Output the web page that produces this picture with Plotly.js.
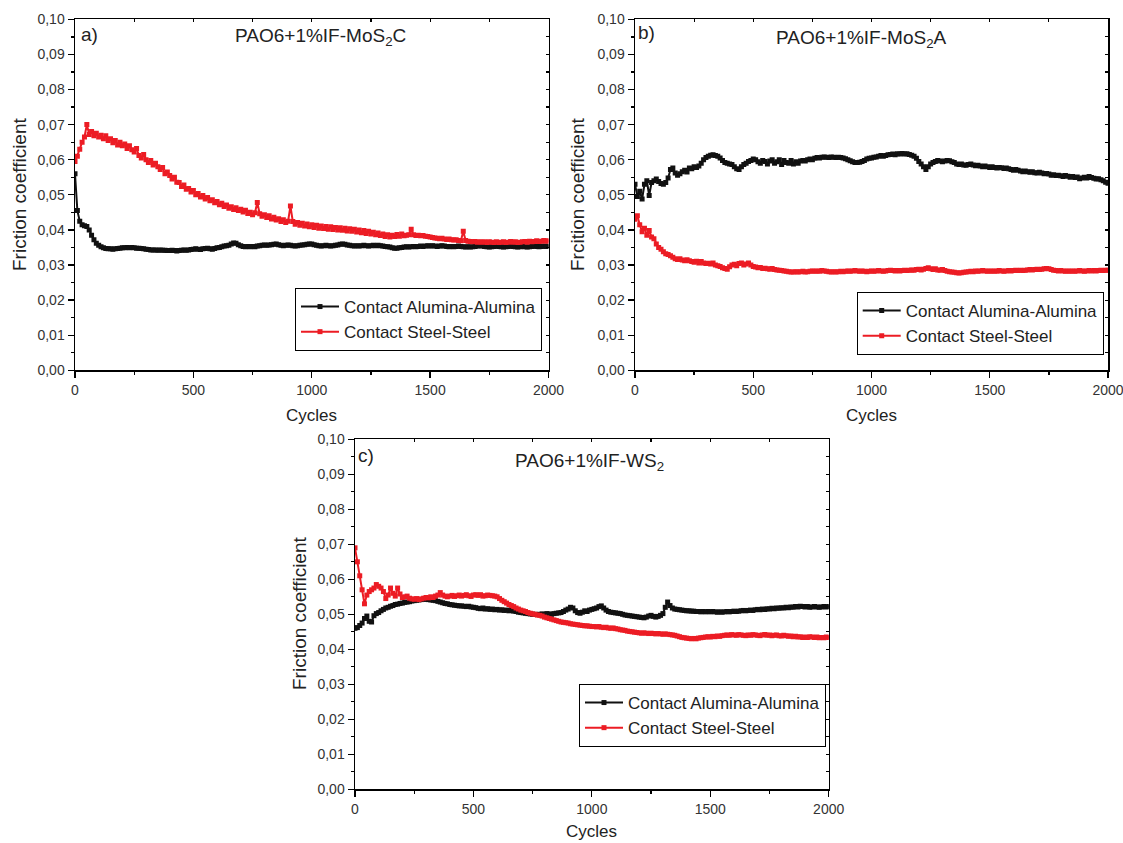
<!DOCTYPE html>
<html>
<head>
<meta charset="utf-8">
<script src="https://cdn.plot.ly/plotly-3.0.1.min.js"></script>
<style>html,body{margin:0;padding:0;background:#fff;}#chart{width:1123px;height:843px;}</style>
</head>
<body>
<div id="chart"></div>
<script>
// Sample grid: one reading every 10 cycles, 0..2000
const cycles = Array.from({length: 201}, (_, i) => i * 10);

const seriesNames = ["Contact Alumina-Alumina", "Contact Steel-Steel"];
const panelTitles = ["PAO6+1%IF-MoS<sub>2</sub>C", "PAO6+1%IF-MoS<sub>2</sub>A", "PAO6+1%IF-WS<sub>2</sub>"];
const panelLabels = ["a)", "b)", "c)"];
const xTitle = "Cycles";
const yTitles = ["Friction coefficient", "Frcition coefficient", "Friction coefficient"];

// Panel a) black (alumina) and red (steel)
const aAlumina = [
.0560,.0455,.0425,.0415,.0412,.0410,.0400,.0385,.0372,.0362,
.0356,.0352,.0349,.0347,.0346,.0346,.0345,.0346,.0347,.0348,
.0349,.0349,.0350,.0349,.0350,.0349,.0348,.0348,.0347,.0346,
.0345,.0344,.0343,.0343,.0343,.0342,.0343,.0342,.0342,.0341,
.0341,.0342,.0341,.0340,.0341,.0342,.0343,.0342,.0343,.0344,
.0345,.0346,.0345,.0344,.0346,.0347,.0348,.0346,.0345,.0347,
.0349,.0350,.0352,.0354,.0355,.0356,.0360,.0363,.0362,.0358,
.0355,.0353,.0352,.0353,.0352,.0353,.0352,.0354,.0355,.0356,
.0357,.0356,.0357,.0358,.0359,.0360,.0358,.0356,.0355,.0356,
.0357,.0356,.0355,.0354,.0355,.0356,.0357,.0358,.0359,.0360,
.0360,.0358,.0356,.0355,.0354,.0355,.0356,.0355,.0354,.0355,
.0356,.0357,.0359,.0360,.0359,.0357,.0356,.0355,.0354,.0355,
.0354,.0355,.0356,.0355,.0354,.0355,.0356,.0355,.0356,.0355,
.0354,.0353,.0352,.0351,.0349,.0348,.0348,.0349,.0350,.0351,
.0352,.0351,.0352,.0353,.0352,.0353,.0354,.0353,.0354,.0355,
.0354,.0355,.0354,.0353,.0354,.0355,.0354,.0353,.0352,.0353,
.0352,.0353,.0354,.0353,.0352,.0351,.0352,.0351,.0352,.0353,
.0354,.0355,.0354,.0353,.0352,.0351,.0352,.0353,.0354,.0353,
.0352,.0351,.0352,.0353,.0354,.0353,.0352,.0351,.0352,.0353,
.0352,.0351,.0352,.0353,.0354,.0353,.0352,.0353,.0354,.0353,
.0354];
const aSteel = [
.0595,.0610,.0630,.0650,.0665,.0700,.0672,.0680,.0668,.0675,
.0665,.0670,.0660,.0668,.0655,.0660,.0648,.0655,.0642,.0650,
.0640,.0645,.0632,.0640,.0628,.0622,.0632,.0612,.0605,.0615,
.0600,.0592,.0598,.0585,.0590,.0580,.0572,.0578,.0560,.0565,
.0555,.0545,.0550,.0536,.0535,.0524,.0528,.0516,.0518,.0508,
.0512,.0500,.0504,.0494,.0498,.0488,.0492,.0483,.0486,.0477,
.0481,.0472,.0476,.0467,.0471,.0462,.0466,.0458,.0463,.0455,
.0459,.0451,.0456,.0447,.0450,.0443,.0449,.0478,.0446,.0439,
.0443,.0435,.0440,.0431,.0436,.0428,.0432,.0424,.0429,.0421,
.0425,.0468,.0424,.0416,.0421,.0413,.0419,.0411,.0417,.0409,
.0415,.0407,.0413,.0405,.0411,.0404,.0410,.0402,.0409,.0401,
.0407,.0400,.0406,.0399,.0405,.0397,.0403,.0396,.0402,.0394,
.0400,.0392,.0398,.0390,.0396,.0388,.0393,.0386,.0391,.0384,
.0388,.0381,.0386,.0380,.0385,.0381,.0387,.0382,.0388,.0383,
.0385,.0386,.0402,.0386,.0384,.0385,.0383,.0384,.0382,.0381,
.0380,.0378,.0377,.0376,.0375,.0376,.0374,.0373,.0374,.0372,
.0371,.0372,.0370,.0369,.0396,.0370,.0368,.0367,.0366,.0367,
.0365,.0366,.0365,.0366,.0364,.0366,.0365,.0364,.0366,.0364,
.0365,.0366,.0364,.0365,.0367,.0365,.0366,.0364,.0365,.0366,
.0367,.0365,.0368,.0366,.0367,.0369,.0367,.0368,.0370,.0368,
.0369];

// Panel b)
const bAlumina = [
.0530,.0495,.0510,.0488,.0530,.0540,.0498,.0535,.0540,.0545,
.0538,.0532,.0530,.0535,.0548,.0572,.0576,.0562,.0556,.0560,
.0566,.0570,.0565,.0576,.0574,.0580,.0578,.0582,.0590,.0600,
.0606,.0610,.0613,.0614,.0612,.0610,.0605,.0598,.0592,.0590,
.0588,.0586,.0580,.0574,.0572,.0580,.0586,.0590,.0595,.0598,
.0602,.0600,.0594,.0590,.0598,.0595,.0588,.0596,.0600,.0590,
.0594,.0600,.0586,.0598,.0592,.0590,.0598,.0588,.0594,.0590,
.0596,.0598,.0596,.0600,.0602,.0600,.0604,.0606,.0605,.0607,
.0608,.0607,.0606,.0608,.0607,.0606,.0607,.0606,.0605,.0603,
.0600,.0597,.0594,.0592,.0592,.0593,.0595,.0598,.0602,.0604,
.0605,.0607,.0608,.0610,.0612,.0610,.0612,.0614,.0615,.0616,
.0614,.0617,.0616,.0618,.0616,.0617,.0615,.0613,.0610,.0604,
.0595,.0588,.0580,.0572,.0580,.0588,.0592,.0595,.0598,.0596,
.0594,.0596,.0598,.0597,.0594,.0592,.0588,.0586,.0588,.0585,
.0584,.0586,.0588,.0585,.0583,.0584,.0582,.0580,.0582,.0580,
.0578,.0580,.0578,.0576,.0578,.0577,.0575,.0576,.0574,.0572,
.0570,.0572,.0570,.0568,.0566,.0568,.0566,.0564,.0566,.0563,
.0562,.0564,.0562,.0560,.0561,.0559,.0556,.0557,.0555,.0556,
.0554,.0552,.0555,.0553,.0550,.0552,.0549,.0551,.0546,.0548,
.0550,.0548,.0552,.0549,.0547,.0545,.0546,.0543,.0540,.0536,
.0533];
const bSteel = [
.0430,.0440,.0415,.0395,.0405,.0385,.0398,.0380,.0375,.0360,
.0350,.0345,.0338,.0332,.0330,.0326,.0322,.0318,.0316,.0318,
.0314,.0312,.0315,.0312,.0310,.0308,.0311,.0306,.0310,.0306,
.0304,.0305,.0303,.0306,.0300,.0298,.0296,.0292,.0290,.0288,
.0295,.0300,.0302,.0298,.0304,.0306,.0300,.0303,.0306,.0300,
.0296,.0294,.0292,.0293,.0290,.0291,.0289,.0288,.0290,.0287,
.0286,.0285,.0284,.0283,.0282,.0281,.0280,.0280,.0281,.0280,
.0281,.0282,.0280,.0281,.0282,.0283,.0282,.0283,.0282,.0284,
.0283,.0282,.0281,.0280,.0281,.0280,.0281,.0282,.0281,.0282,
.0283,.0282,.0283,.0284,.0283,.0282,.0283,.0282,.0281,.0282,
.0283,.0282,.0283,.0284,.0283,.0282,.0283,.0284,.0285,.0284,
.0283,.0284,.0283,.0284,.0285,.0284,.0285,.0286,.0285,.0287,
.0288,.0286,.0288,.0290,.0292,.0289,.0287,.0289,.0286,.0285,
.0287,.0284,.0282,.0281,.0280,.0279,.0278,.0277,.0278,.0279,
.0280,.0281,.0282,.0281,.0283,.0282,.0283,.0284,.0283,.0282,
.0283,.0282,.0283,.0282,.0284,.0283,.0282,.0283,.0284,.0283,
.0284,.0285,.0284,.0285,.0284,.0285,.0286,.0287,.0286,.0287,
.0288,.0287,.0288,.0289,.0290,.0289,.0287,.0285,.0284,.0283,
.0284,.0283,.0282,.0283,.0282,.0283,.0282,.0283,.0284,.0283,
.0282,.0283,.0284,.0283,.0284,.0283,.0284,.0285,.0284,.0285,
.0285];

// Panel c)
const cAlumina = [
.0460,.0462,.0468,.0475,.0488,.0495,.0480,.0478,.0496,.0502,
.0505,.0510,.0514,.0518,.0520,.0523,.0525,.0528,.0529,.0531,
.0532,.0534,.0535,.0536,.0538,.0539,.0540,.0541,.0542,.0543,
.0543,.0542,.0541,.0540,.0539,.0537,.0535,.0533,.0531,.0530,
.0528,.0527,.0526,.0525,.0524,.0524,.0523,.0522,.0523,.0521,
.0520,.0519,.0517,.0516,.0518,.0515,.0516,.0514,.0515,.0513,
.0514,.0512,.0513,.0511,.0512,.0510,.0511,.0509,.0508,.0506,
.0505,.0504,.0503,.0502,.0501,.0500,.0500,.0499,.0500,.0501,
.0500,.0502,.0501,.0500,.0502,.0503,.0504,.0505,.0508,.0512,
.0515,.0520,.0518,.0510,.0505,.0503,.0506,.0510,.0508,.0512,
.0514,.0516,.0518,.0522,.0524,.0518,.0512,.0508,.0506,.0505,
.0504,.0503,.0502,.0500,.0498,.0497,.0496,.0495,.0494,.0493,
.0492,.0491,.0490,.0492,.0495,.0497,.0494,.0492,.0494,.0497,
.0502,.0520,.0535,.0525,.0518,.0515,.0514,.0513,.0512,.0511,
.0510,.0510,.0509,.0509,.0508,.0508,.0507,.0508,.0507,.0508,
.0507,.0508,.0507,.0506,.0507,.0506,.0507,.0508,.0507,.0508,
.0509,.0508,.0509,.0510,.0511,.0510,.0511,.0512,.0511,.0513,
.0514,.0513,.0515,.0514,.0516,.0515,.0517,.0516,.0518,.0517,
.0519,.0518,.0520,.0519,.0521,.0520,.0522,.0521,.0523,.0522,
.0521,.0522,.0520,.0521,.0522,.0521,.0520,.0521,.0522,.0521,
.0522];
const cSteel = [
.0690,.0650,.0610,.0570,.0530,.0555,.0565,.0570,.0575,.0585,
.0580,.0575,.0565,.0545,.0555,.0575,.0560,.0552,.0575,.0558,
.0548,.0550,.0552,.0546,.0544,.0543,.0545,.0542,.0544,.0546,
.0548,.0547,.0550,.0548,.0552,.0555,.0562,.0555,.0552,.0550,
.0552,.0554,.0551,.0553,.0555,.0552,.0554,.0556,.0553,.0551,
.0555,.0556,.0554,.0556,.0552,.0553,.0555,.0554,.0553,.0552,
.0550,.0545,.0540,.0536,.0532,.0528,.0525,.0522,.0518,.0515,
.0512,.0510,.0508,.0505,.0503,.0501,.0500,.0498,.0497,.0495,
.0492,.0490,.0488,.0486,.0484,.0482,.0480,.0478,.0477,.0476,
.0475,.0473,.0472,.0471,.0470,.0469,.0468,.0467,.0467,.0466,
.0465,.0465,.0464,.0465,.0463,.0462,.0463,.0461,.0460,.0461,
.0459,.0458,.0456,.0455,.0454,.0452,.0451,.0450,.0449,.0448,
.0447,.0446,.0447,.0446,.0445,.0446,.0445,.0444,.0445,.0444,
.0443,.0444,.0443,.0442,.0441,.0440,.0438,.0436,.0434,.0433,
.0432,.0431,.0430,.0431,.0430,.0432,.0433,.0434,.0435,.0436,
.0435,.0437,.0436,.0438,.0437,.0439,.0440,.0441,.0440,.0442,
.0441,.0440,.0442,.0441,.0440,.0439,.0441,.0440,.0442,.0441,
.0440,.0439,.0441,.0442,.0440,.0441,.0439,.0440,.0441,.0439,
.0438,.0440,.0439,.0437,.0438,.0436,.0437,.0435,.0436,.0434,
.0435,.0434,.0436,.0435,.0434,.0435,.0433,.0434,.0433,.0435,
.0434];

const W = 1123, H = 843;
const px = v => v / W;
const py = v => 1 - v / H;
const FONT = "Liberation Sans, Arial, Helvetica, sans-serif";
const BLACK = "#111111", RED = "#ec1c24";

// Panel frames in pixels [left, right, top, bottom]
const frames = [[75, 548.5, 19.3, 370.3], [635, 1108, 19.3, 370.3], [355, 828.7, 439.3, 789.3]];

function seriesTrace(y, idx, xa, ya, lg, color) {
  return {
    type: "scatter", mode: "lines+markers", x: cycles, y: y,
    name: seriesNames[idx], xaxis: xa, yaxis: ya, legend: lg,
    line: {color: color, width: 2},
    marker: {color: color, size: 5, symbol: "square"},
    hoverinfo: "skip"
  };
}

const data = [
  seriesTrace(aAlumina, 0, "x", "y", "legend", BLACK),
  seriesTrace(aSteel, 1, "x", "y", "legend", RED),
  seriesTrace(bAlumina, 0, "x2", "y2", "legend2", BLACK),
  seriesTrace(bSteel, 1, "x2", "y2", "legend2", RED),
  seriesTrace(cAlumina, 0, "x3", "y3", "legend3", BLACK),
  seriesTrace(cSteel, 1, "x3", "y3", "legend3", RED)
];
// empty traces to activate the mirrored tick axes
[4, 5, 6].forEach(n => data.push({type: "scatter", x: [], y: [], xaxis: "x" + n, yaxis: "y" + n, showlegend: false, hoverinfo: "skip"}));

function baseX(f, anchor) {
  return {domain: [px(f[0]), px(f[1])], anchor: anchor, range: [0, 2000], tick0: 0, dtick: 500,
    ticks: "outside", ticklen: 6, tickwidth: 1.3, tickcolor: "#000", ticklabeloverflow: "allow",
    showline: true, linewidth: 1.5, linecolor: "#000", mirror: true,
    showgrid: false, zeroline: false, fixedrange: true,
    tickfont: {family: FONT, size: 14, color: "#333"},
    minor: {ticks: "outside", ticklen: 3, tickwidth: 1.3, tickcolor: "#000", dtick: 250, showgrid: false}};
}
function baseY(f, anchor) {
  return {domain: [py(f[3]), py(f[2])], anchor: anchor, range: [0, 0.1], tick0: 0, dtick: 0.01, tickformat: ".2f",
    ticks: "outside", ticklen: 6, tickwidth: 1.3, tickcolor: "#000", ticklabeloverflow: "allow",
    showline: true, linewidth: 1.5, linecolor: "#000", mirror: true,
    showgrid: false, zeroline: false, fixedrange: true,
    tickfont: {family: FONT, size: 14, color: "#333"},
    minor: {ticks: "outside", ticklen: 3, tickwidth: 1.3, tickcolor: "#000", dtick: 0.005, showgrid: false}};
}
function topX(over, anchor) {
  return {overlaying: over, side: "top", anchor: anchor, range: [0, 2000], tick0: 0, dtick: 500,
    ticks: "inside", ticklen: 3, tickwidth: 1.2, tickcolor: "#000", showticklabels: false,
    showline: false, showgrid: false, zeroline: false, fixedrange: true,
    minor: {ticks: "inside", ticklen: 3, tickwidth: 1.2, tickcolor: "#000", dtick: 250, showgrid: false}};
}
function rightY(over, anchor) {
  return {overlaying: over, side: "right", anchor: anchor, range: [0, 0.1], tick0: 0, dtick: 0.01,
    ticks: "inside", ticklen: 3, tickwidth: 1.2, tickcolor: "#000", showticklabels: false,
    showline: false, showgrid: false, zeroline: false, fixedrange: true,
    minor: {ticks: "inside", ticklen: 3, tickwidth: 1.2, tickcolor: "#000", dtick: 0.005, showgrid: false}};
}

function legendAt(x, y) {
  return {x: px(x), y: py(y), xanchor: "left", yanchor: "top", bordercolor: "#000", borderwidth: 1,
    bgcolor: "rgba(255,255,255,0)", font: {family: FONT, size: 17, color: "#222"}, itemwidth: 38, tracegroupgap: 0};
}

const txt = {family: FONT, size: 17, color: "#222"};
const big = {family: FONT, size: 19, color: "#222"};
function ann(text, x, y, extra) {
  return Object.assign({text: text, xref: "paper", yref: "paper", x: px(x), y: py(y), showarrow: false, font: txt,
    xanchor: "center", yanchor: "middle"}, extra || {});
}

const annotations = [
  ann(panelLabels[0], 79, 35, {xanchor: "left", font: big}),
  ann(panelLabels[1], 636, 33, {xanchor: "left", font: big}),
  ann(panelLabels[2], 356, 455, {xanchor: "left", font: big}),
  ann(panelTitles[0], 320, 37, {font: big}),
  ann(panelTitles[1], 861, 39, {font: big}),
  ann(panelTitles[2], 589, 462, {font: big}),
  ann(xTitle, 311.8, 415),
  ann(xTitle, 871.5, 415),
  ann(xTitle, 591.8, 831),
  ann(yTitles[0], 19, 195, {textangle: -90, font: big}),
  ann(yTitles[1], 577, 195, {textangle: -90, font: big}),
  ann(yTitles[2], 299, 614, {textangle: -90, font: big})
];

const layout = {
  width: W, height: H, margin: {l: 0, r: 0, t: 0, b: 0},
  paper_bgcolor: "#fff", plot_bgcolor: "#fff",
  separators: ", ",
  font: {family: FONT, color: "#222"},
  showlegend: true,
  xaxis: baseX(frames[0], "y"), yaxis: baseY(frames[0], "x"),
  xaxis2: baseX(frames[1], "y2"), yaxis2: baseY(frames[1], "x2"),
  xaxis3: baseX(frames[2], "y3"), yaxis3: baseY(frames[2], "x3"),
  xaxis4: topX("x", "y"), yaxis4: rightY("y", "x"),
  xaxis5: topX("x2", "y2"), yaxis5: rightY("y2", "x2"),
  xaxis6: topX("x3", "y3"), yaxis6: rightY("y3", "x3"),
  legend: legendAt(295, 288),
  legend2: legendAt(856.7, 292),
  legend3: legendAt(579, 684),
  annotations: annotations
};

Plotly.newPlot("chart", data, layout, {staticPlot: true, displayModeBar: false});
</script>
</body>
</html>
